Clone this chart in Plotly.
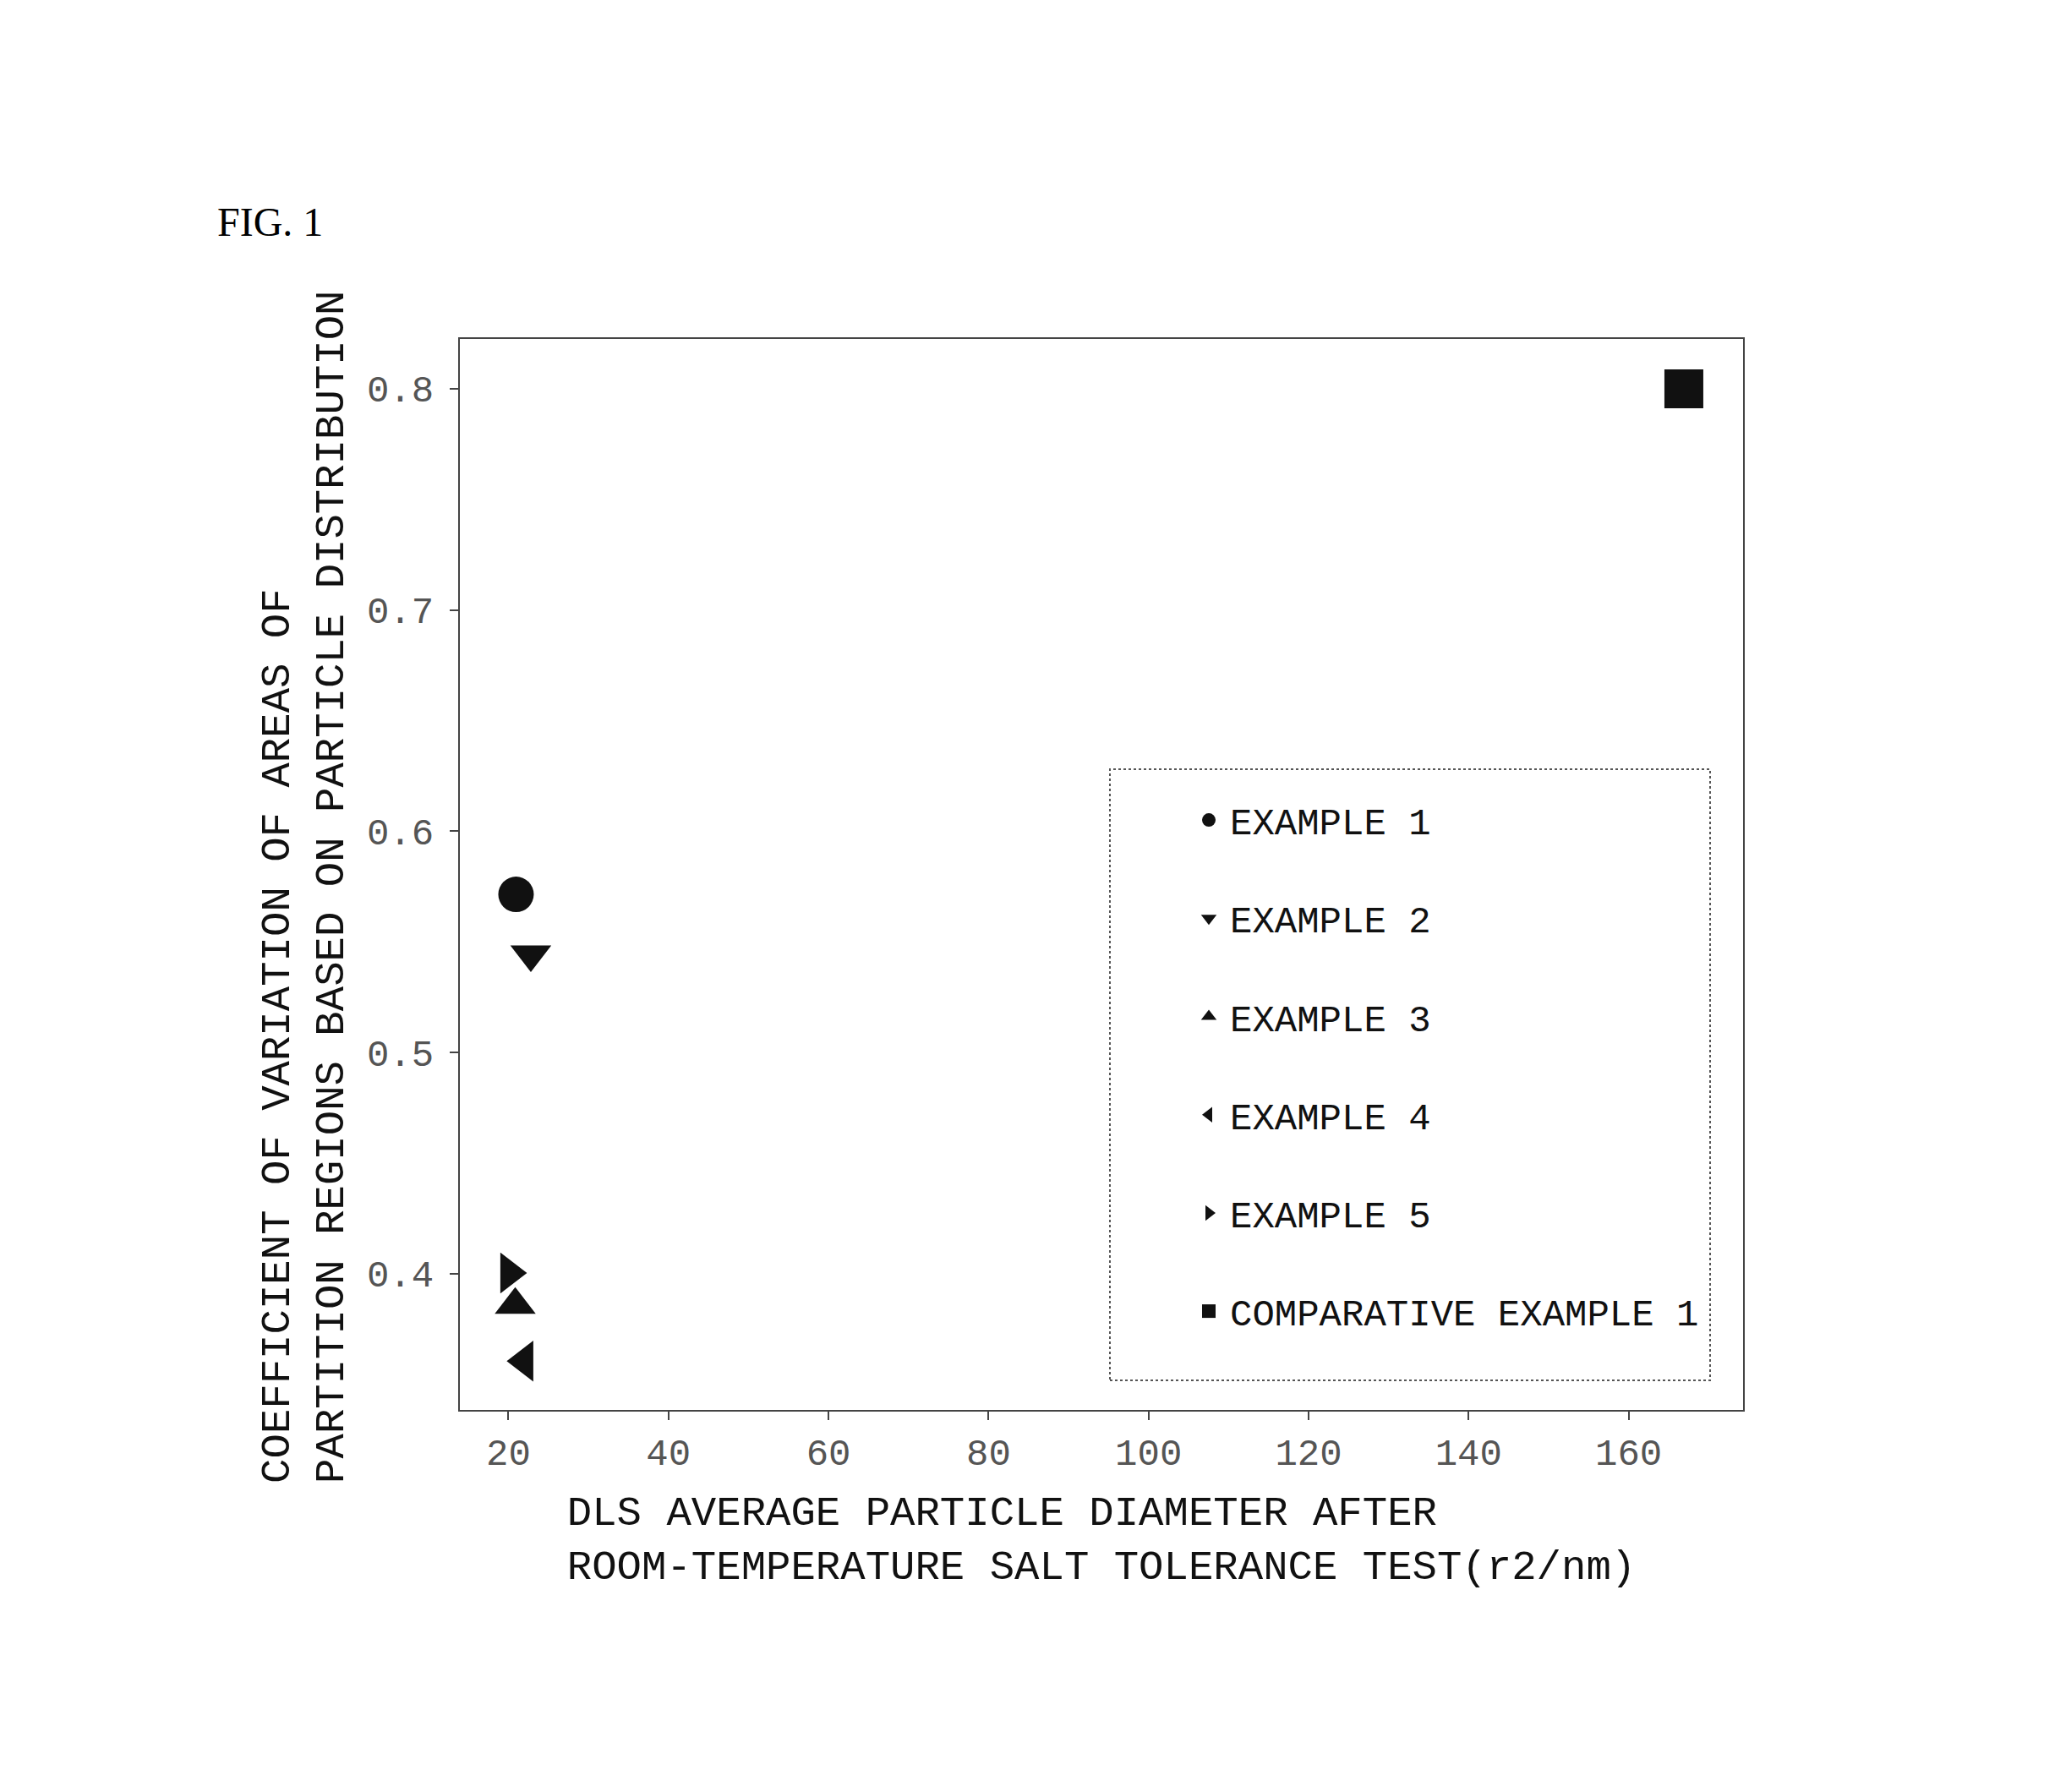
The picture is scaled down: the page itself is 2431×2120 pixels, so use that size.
import plotly.graph_objects as go

# ---- data ----
series_names = ["EXAMPLE 1", "EXAMPLE 2", "EXAMPLE 3", "EXAMPLE 4", "EXAMPLE 5", "COMPARATIVE EXAMPLE 1"]
dls_diameter = [20.95, 22.8, 20.85, 22.0, 20.1, 166.9]
cv_area = [0.5715, 0.5444, 0.386, 0.3606, 0.4004, 0.800]

x_tick_vals = [20, 40, 60, 80, 100, 120, 140, 160]
y_tick_vals = [0.4, 0.5, 0.6, 0.7, 0.8]
y_tick_text = ["0.4", "0.5", "0.6", "0.7", "0.8"]

x_title_lines = ["DLS AVERAGE PARTICLE DIAMETER AFTER", "ROOM-TEMPERATURE SALT TOLERANCE TEST(r2/nm)"]
y_title_lines = ["COEFFICIENT OF VARIATION OF AREAS OF", "PARTITION REGIONS BASED ON PARTICLE DISTRIBUTION"]

# ---- styles ----
symbols = ["circle", "triangle-down", "triangle-up", "triangle-left", "triangle-right", "square"]
sizes = [42, 42, 42, 42, 42, 46]
MONO = "Liberation Mono, DejaVu Sans Mono, monospace"


def pad_lines(lines, extra=0):
    # left-align lines of a centred multi-line title (monospace font)
    w = max(len(s) for s in lines)
    return "<br>".join(s + "&nbsp;" * (w - len(s) + extra) for s in lines)


fig = go.Figure()
for i, name in enumerate(series_names):
    fig.add_trace(go.Scatter(
        x=[dls_diameter[i]], y=[cv_area[i]],
        mode="markers", name=name, legendgroup=name,
        marker=dict(symbol=symbols[i], size=sizes[i], color="#111111",
                    line=dict(width=0)),
    ))

W, H = 2431, 2120
L, R, T, B = 544, 2431 - 2062, 401, 2120 - 1668
pw, ph = W - L - R, H - T - B


def px(xp):
    return (xp - L) / pw


def py(yp):
    return (H - B - yp) / ph


axis_common = dict(
    showline=True, linecolor="#444444", linewidth=2, mirror=True,
    ticks="outside", ticklen=10, tickwidth=2, tickcolor="#444444",
    showgrid=False, zeroline=False,
    tickfont=dict(family=MONO, size=44, color="#555555"),
)

fig.update_layout(
    width=W, height=H,
    margin=dict(l=L, r=R, t=T, b=B, autoexpand=False),
    paper_bgcolor="white", plot_bgcolor="white",
    showlegend=True,
    legend=dict(
        x=px(1405), y=py(935), xanchor="left", yanchor="top",
        bgcolor="rgba(0,0,0,0)", borderwidth=0,
        font=dict(family=MONO, size=44, color="#111111"),
        traceorder="grouped", tracegroupgap=56,
        itemsizing="trace", itemwidth=40,
    ),
    xaxis=dict(
        range=[13.93, 174.3], tickvals=x_tick_vals,
        title=dict(text=pad_lines(x_title_lines),
                   font=dict(family=MONO, size=49, color="#111111"), standoff=25),
        **axis_common,
    ),
    yaxis=dict(
        range=[0.3385, 0.8225], tickvals=y_tick_vals, ticktext=y_tick_text,
        ticklabelstandoff=10,
        title=dict(text=pad_lines(y_title_lines, extra=1),
                   font=dict(family=MONO, size=49, color="#111111"), standoff=12),
        **axis_common,
    ),
    shapes=[dict(
        type="rect", xref="paper", yref="paper",
        x0=px(1313), x1=px(2023), y0=py(1633), y1=py(910),
        line=dict(color="#555555", width=2, dash="dot"),
        fillcolor="rgba(0,0,0,0)", layer="below",
    )],
    annotations=[dict(
        text="FIG. 1", xref="paper", yref="paper",
        x=px(255), y=py(262), xanchor="left", yanchor="middle",
        showarrow=False,
        font=dict(family="Liberation Serif, Times New Roman, serif", size=48, color="#000000"),
    )],
)

fig.write_html("out.html")
